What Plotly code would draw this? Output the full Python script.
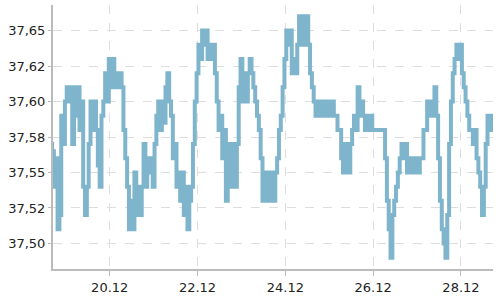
import pandas as pd
import plotly.graph_objects as go

start_time = "2023-12-18 16:00"
step = "1h"
values = [
    37.57, 37.565, 37.54, 37.56, 37.51, 37.52, 37.59, 37.57, 37.60, 37.61,
    37.60, 37.61, 37.57, 37.59, 37.61, 37.61, 37.58, 37.60, 37.54, 37.52,
    37.54, 37.57, 37.60, 37.58, 37.60, 37.58, 37.555, 37.54, 37.59, 37.60,
    37.62, 37.60, 37.63, 37.61, 37.63, 37.61, 37.62, 37.61, 37.62, 37.61,
    37.58, 37.56, 37.54, 37.51, 37.53, 37.51, 37.55, 37.52, 37.54, 37.52,
    37.54, 37.57, 37.54, 37.56, 37.55, 37.56, 37.54, 37.57, 37.59, 37.60,
    37.58, 37.60, 37.585, 37.61, 37.62, 37.60, 37.59, 37.56, 37.57, 37.54,
    37.55, 37.53, 37.55, 37.52, 37.54, 37.51, 37.53, 37.54, 37.57, 37.60,
    37.62, 37.64, 37.63, 37.65, 37.64, 37.65, 37.63, 37.64, 37.63, 37.64,
    37.62, 37.60, 37.58, 37.59, 37.56, 37.58, 37.53, 37.54, 37.57, 37.54,
    37.57, 37.54, 37.57, 37.61, 37.63, 37.60, 37.62, 37.60, 37.62, 37.63,
    37.62, 37.61, 37.60, 37.59, 37.58, 37.56, 37.53, 37.55, 37.53, 37.55,
    37.53, 37.55, 37.53, 37.55, 37.56, 37.58, 37.59, 37.61, 37.63, 37.65,
    37.64, 37.65, 37.62, 37.63, 37.62, 37.64, 37.66, 37.64, 37.66, 37.64,
    37.66, 37.64, 37.62, 37.61, 37.60, 37.59, 37.60, 37.59, 37.60, 37.59,
    37.60, 37.59, 37.60, 37.59, 37.60, 37.59, 37.59, 37.58, 37.58, 37.56,
    37.55, 37.57, 37.56, 37.55, 37.57, 37.58, 37.59, 37.58, 37.61, 37.59,
    37.60, 37.59, 37.58, 37.59, 37.58, 37.59, 37.58, 37.58, 37.58, 37.58,
    37.58, 37.58, 37.58, 37.56, 37.53, 37.51, 37.49, 37.52, 37.53, 37.54,
    37.55, 37.56, 37.57, 37.56, 37.57, 37.55, 37.56, 37.55, 37.56, 37.55,
    37.56, 37.55, 37.56, 37.56, 37.58, 37.58, 37.60, 37.59, 37.60, 37.59,
    37.61, 37.59, 37.56, 37.53, 37.51, 37.50, 37.49, 37.52, 37.57, 37.60,
    37.62, 37.63, 37.64, 37.63, 37.64, 37.62, 37.61, 37.60, 37.59, 37.58,
    37.58, 37.57, 37.58, 37.56, 37.55, 37.54, 37.52, 37.54, 37.57, 37.59,
    37.58, 37.59, 37.59,
]
times = pd.date_range(start_time, periods=len(values), freq=step)

y_tickvals = [37.50, 37.525, 37.55, 37.575, 37.60, 37.625, 37.65]
y_ticktext = ["37,50", "37,52", "37,55", "37,58", "37,60", "37,62", "37,65"]
x_tickvals = ["2023-12-20", "2023-12-22", "2023-12-24", "2023-12-26", "2023-12-28"]
x_ticktext = ["20.12", "22.12", "24.12", "26.12", "28.12"]

fig = go.Figure()
fig.add_trace(go.Scatter(
    x=times, y=values, mode="lines",
    line=dict(color="#7fb5cc", width=4, shape="hvh"),
    hoverinfo="skip",
))

font = dict(family="DejaVu Sans", size=13, color="#222222")
fig.update_layout(
    width=500, height=300,
    margin=dict(l=53, r=7, t=5, b=24),
    paper_bgcolor="white", plot_bgcolor="white",
    showlegend=False,
    font=font,
)
fig.update_xaxes(
    range=["2023-12-18 17:00", "2023-12-28 17:30"],
    tickvals=x_tickvals, ticktext=x_ticktext,
    showline=True, linecolor="#bbbbbb", linewidth=2,
    ticks="outside", ticklen=5, tickcolor="#bbbbbb",
    showgrid=True, gridcolor="#dddddd", griddash="dash", gridwidth=1,
    zeroline=False, tickfont=font,
)
fig.update_yaxes(
    range=[37.482, 37.668],
    tickvals=y_tickvals, ticktext=y_ticktext,
    showline=True, linecolor="#bbbbbb", linewidth=2,
    ticks="outside", ticklen=3, tickcolor="#bbbbbb",
    showgrid=True, gridcolor="#dddddd", griddash="dash", gridwidth=1,
    zeroline=False, tickfont=font,
)
fig.write_html("out.html")
